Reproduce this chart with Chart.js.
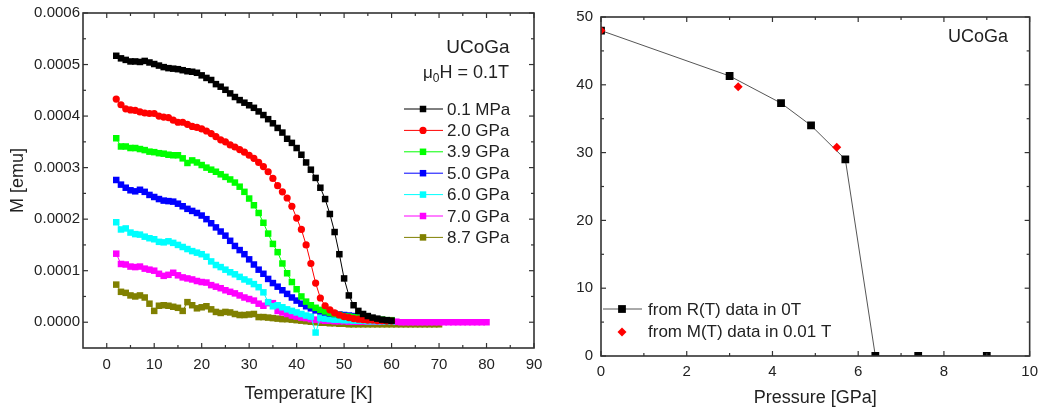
<!DOCTYPE html>
<html><head><meta charset="utf-8">
<script src="https://cdn.jsdelivr.net/npm/chart.js@4"></script>
<style>
html,body{margin:0;padding:0;background:#fff;width:1045px;height:410px;overflow:hidden}
#c1{position:absolute;left:0;top:0}
#c2{position:absolute;left:560px;top:0}
</style></head><body>
<canvas id="c1" width="560" height="410"></canvas>
<canvas id="c2" width="485" height="410"></canvas>
<script>
// ---------- Left panel data: M (in units of 1e-4 emu) vs temperature ----------
const temperatureK = [2,3,4,5,6,7,8,9,10,11,12,13,14,15,16,17,18,19,20,21,22,23,24,25,26,27,28,29,30,31,32,33,34,35,36,37,38,39,40,41,42,43,44,45,46,47,48,49,50,51,52,53,54,55,56,57,58,59,60,61,62,63,64,65,66,67,68,69,70,71,72,73,74,75,76,77,78,79,80];
const m_0_1MPa = [5.17,5.12,5.09,5.06,5.06,5.05,5.07,5.04,5.01,4.98,
  4.95,4.93,4.92,4.91,4.89,4.87,4.86,4.84,4.79,4.74,
  4.70,4.62,4.57,4.51,4.44,4.37,4.31,4.26,4.21,4.16,
  4.09,4.02,3.94,3.86,3.77,3.68,3.56,3.48,3.38,3.25,
  3.10,2.96,2.80,2.61,2.39,2.10,1.75,1.32,0.85,0.52,
  0.33,0.22,0.16,0.12,0.09,0.07,0.05,0.04,0.03];
const m_2_0GPa = [4.33,4.22,4.14,4.12,4.11,4.08,4.06,4.05,4.05,4.00,
  3.98,3.97,3.92,3.88,3.88,3.84,3.80,3.78,3.75,3.71,
  3.66,3.60,3.54,3.50,3.44,3.40,3.35,3.30,3.24,3.18,
  3.10,3.02,2.92,2.79,2.65,2.53,2.41,2.25,2.02,1.80,
  1.50,1.14,0.76,0.47,0.32,0.24,0.18,0.14,0.11,0.09,
  0.07,0.06,0.05,0.04,0.04,0.03,0.03,0.02,0.02];
const m_3_9GPa = [3.57,3.41,3.41,3.38,3.38,3.36,3.34,3.31,3.30,3.28,
  3.27,3.25,3.24,3.24,3.18,3.09,3.14,3.10,3.05,3.00,
  2.96,2.92,2.87,2.82,2.77,2.71,2.63,2.53,2.40,2.27,
  2.12,1.93,1.72,1.52,1.36,1.14,0.95,0.78,0.64,0.50,
  0.40,0.33,0.28,0.24,0.21,0.18,0.16,0.14,0.12,0.11,
  0.10,0.09,0.08,0.07,0.06,0.05,0.05,0.04,0.04];
const m_5_0GPa = [2.76,2.67,2.61,2.56,2.54,2.57,2.53,2.47,2.43,2.39,
  2.36,2.35,2.34,2.30,2.25,2.20,2.16,2.12,2.07,2.00,
  1.92,1.84,1.76,1.68,1.58,1.48,1.40,1.32,1.22,1.12,
  1.02,0.94,0.84,0.76,0.69,0.62,0.55,0.48,0.42,0.36,
  0.31,0.27,0.23,0.21,0.19,0.17,0.16,0.15,0.14,0.13,
  0.12,0.11,0.10,0.09];
const m_6_0GPa = [1.94,1.80,1.82,1.74,1.71,1.70,1.66,1.63,1.61,1.56,
  1.55,1.57,1.54,1.50,1.46,1.42,1.38,1.35,1.32,1.27,
  1.18,1.11,1.07,1.02,0.97,0.93,0.88,0.83,0.79,0.74,
  0.68,0.58,0.39,0.31,0.33,0.29,0.25,0.22,0.19,0.16,
  0.13,0.11,-0.20,0.08,0.07,0.06,0.05,0.05,0.04,0.04,
  0.03,0.03,0.03,0.02,0.02,0.02,0.02,0.01,0.01];
const m_7_0GPa = [1.33,1.13,1.12,1.08,1.07,1.08,1.04,1.02,1.00,0.94,
  0.90,0.92,0.96,0.91,0.87,0.85,0.83,0.80,0.78,0.77,
  0.72,0.69,0.66,0.62,0.59,0.56,0.52,0.48,0.45,0.42,
  0.36,0.32,0.37,0.37,0.22,0.19,0.16,0.13,0.11,0.09,
  0.08,0.06,0.05,0.04,0.03,0.03,0.02,0.02,0.02,0.01,
  0.01,0.01,0.01,0.01,0.01,0.01,0.01,0.01,0.01,0.01,
  0.00,0.00,0.00,0.00,0.00,0.00,0.00,0.00,0.00,0.00,
  0.00,0.00,0.00,0.00,0.00,0.00,0.00,0.00,0.00];
const m_8_7GPa = [0.73,0.59,0.57,0.52,0.50,0.52,0.48,0.36,0.22,0.32,
  0.33,0.32,0.30,0.28,0.22,0.39,0.33,0.27,0.29,0.31,
  0.25,0.20,0.18,0.20,0.19,0.16,0.14,0.14,0.15,0.16,
  0.10,0.10,0.09,0.08,0.07,0.06,0.06,0.05,0.04,0.03,
  0.02,0.01,0.00,-0.01,-0.01,-0.02,-0.02,-0.03,-0.03,-0.04,
  -0.04,-0.04,-0.04,-0.04,-0.04,-0.04,-0.04,-0.04,-0.04,-0.04,
  -0.04,-0.04,-0.04,-0.04,-0.04,-0.04,-0.04,-0.04,-0.04];
const pressureLabels = ['0.1 MPa','2.0 GPa','3.9 GPa','5.0 GPa','6.0 GPa','7.0 GPa','8.7 GPa'];
const mSeries = [m_0_1MPa,m_2_0GPa,m_3_9GPa,m_5_0GPa,m_6_0GPa,m_7_0GPa,m_8_7GPa];
const tempTicks = [0,10,20,30,40,50,60,70,80,90];
const tempMinor = [5,15,25,35,45,55,65,75,85];
const mTicks = [0,0.0001,0.0002,0.0003,0.0004,0.0005,0.0006];
const mMinor = [0.00005,0.00015,0.00025,0.00035,0.00045,0.00055];

// ---------- Right panel data: Tc vs pressure ----------
const pressureR = [0,3.0,4.2,4.9,5.7,6.4,7.4,9.0];
const tcR = [48.0,41.3,37.3,34.0,29.0,0,0,0];
const pressureM = [0,3.2,5.5];
const tcM = [48.0,39.7,30.8];
const pTicks = [0,2,4,6,8,10];
const pMinor = [1,3,5,7,9];
const tcTicks = [0,10,20,30,40,50];
const tcMinor = [5,15,25,35,45];

// ---------- styles ----------
const seriesColors = ['#000000','#ff0000','#00ff00','#0000ff','#00ffff','#ff00ff','#808000'];
const seriesShapes = ['rect','circle','rect','rect','rect','rect','rect'];
const FONT = "'Liberation Sans', Arial, Helvetica, sans-serif";
const TXT = '#222';
Chart.defaults.font.family = FONT;
Chart.defaults.color = TXT;

function drawMarker(ctx, shape, x, y, r, color){
  ctx.fillStyle = color;
  ctx.beginPath();
  if (shape === 'circle') { ctx.arc(x, y, r, 0, Math.PI*2); }
  else if (shape === 'rectRot') { ctx.moveTo(x, y-r); ctx.lineTo(x+r, y); ctx.lineTo(x, y+r); ctx.lineTo(x-r, y); ctx.closePath(); }
  else { const s = r*Math.SQRT1_2; ctx.rect(x-s, y-s, 2*s, 2*s); }
  ctx.fill();
}

function framePlugin(xMaj, xMin, yMaj, yMin){
  return {
    id: 'frame',
    afterDatasetsDraw(chart){
      const {ctx, chartArea:a, scales} = chart;
      const xs = scales.x, ys = scales.y;
      ctx.save();
      ctx.strokeStyle = '#333';
      ctx.lineWidth = 1.2;
      const seg = (x1,y1,x2,y2)=>{ctx.beginPath();ctx.moveTo(x1,y1);ctx.lineTo(x2,y2);ctx.stroke();};
      const tx = (vals,len)=>vals.forEach(v=>{const p=xs.getPixelForValue(v); seg(p,a.bottom,p,a.bottom-len); seg(p,a.top,p,a.top+len);});
      const ty = (vals,len)=>vals.forEach(v=>{const p=ys.getPixelForValue(v); seg(a.left,p,a.left+len,p); seg(a.right,p,a.right-len,p);});
      tx(xMaj,5); tx(xMin,3); ty(yMaj,5); ty(yMin,3);
      ctx.lineWidth = 1.6;
      ctx.strokeRect(a.left, a.top, a.right-a.left, a.bottom-a.top);
      ctx.restore();
    }
  };
}

const leftText = {
  id: 'leftText',
  afterDraw(chart){
    const ctx = chart.ctx;
    ctx.save();
    ctx.fillStyle = TXT;
    ctx.textBaseline = 'middle';
    ctx.textAlign = 'center';
    ctx.font = '19px ' + FONT;
    ctx.fillText('UCoGa', 478, 48);
    ctx.textAlign = 'left';
    let x = 423;
    ctx.font = '17px ' + FONT; ctx.fillText('μ', x, 73); x += ctx.measureText('μ').width;
    ctx.font = '12px ' + FONT; ctx.fillText('0', x, 79); x += ctx.measureText('0').width;
    ctx.font = '18px ' + FONT; ctx.fillText('H = 0.1T', x, 73);
    ctx.font = '17px ' + FONT;
    chart.data.datasets.forEach((ds,i)=>{
      const y = 109 + i*21.4;
      ctx.strokeStyle = ds.borderColor; ctx.lineWidth = 1;
      ctx.beginPath(); ctx.moveTo(404,y); ctx.lineTo(443,y); ctx.stroke();
      drawMarker(ctx, ds.pointStyle, 423, y, ds.pointStyle==='circle'?3.6:4.6, ds.backgroundColor);
      ctx.fillStyle = TXT;
      ctx.fillText(ds.label, 447, y+1);
    });
    ctx.restore();
  }
};

const rightText = {
  id: 'rightText',
  afterDraw(chart){
    const ctx = chart.ctx;
    ctx.save();
    ctx.fillStyle = TXT;
    ctx.textBaseline = 'middle';
    ctx.textAlign = 'right';
    ctx.font = '18px ' + FONT;
    ctx.fillText('UCoGa', 448, 37);
    ctx.textAlign = 'left';
    ctx.font = '17px ' + FONT;
    const dsR = chart.data.datasets[1], dsM = chart.data.datasets[0];
    ctx.strokeStyle = dsR.borderColor; ctx.lineWidth = 1;
    ctx.beginPath(); ctx.moveTo(43,309); ctx.lineTo(82,309); ctx.stroke();
    drawMarker(ctx, 'rect', 62, 309, 5.5, '#000');
    ctx.fillStyle = TXT; ctx.fillText(dsR.label, 88, 310);
    drawMarker(ctx, 'rectRot', 62, 332, 4.5, '#ff0000');
    ctx.fillStyle = TXT; ctx.fillText(dsM.label, 88, 332);
    ctx.restore();
  }
};

// ---------- Left chart ----------
new Chart(document.getElementById('c1'), {
  type: 'scatter',
  data: {
    datasets: mSeries.map((vals,i)=>({
      label: pressureLabels[i],
      data: vals.map((v,j)=>({x: temperatureK[j], y: v*1e-4})),
      showLine: true,
      borderColor: seriesColors[i],
      backgroundColor: seriesColors[i],
      borderWidth: 1,
      pointStyle: seriesShapes[i],
      pointRadius: seriesShapes[i]==='circle' ? 3.6 : 4.6,
      pointBorderWidth: 0,
      pointBackgroundColor: seriesColors[i]
    }))
  },
  options: {
    responsive: false, animation: false, events: [],
    layout: {padding: {top: 13, right: 26, left: 0, bottom: 0}},
    plugins: {legend: {display: false}, tooltip: {enabled: false}},
    scales: {
      x: {
        type: 'linear', min: -5, max: 90,
        afterBuildTicks: s => { s.ticks = tempTicks.map(v=>({value:v})); },
        afterFit: s => { s.height = 62; },
        grid: {display: false, drawTicks: false}, border: {display: false},
        ticks: {font: {size: 15}, padding: 8, color: TXT, maxRotation: 0},
        title: {display: true, text: 'Temperature [K]', font: {size: 18}, color: TXT, padding: {top: 0, bottom: 5}}
      },
      y: {
        type: 'linear', min: -0.00005, max: 0.0006,
        afterBuildTicks: s => { s.ticks = mTicks.map(v=>({value:v})); },
        afterFit: s => { s.width = 83; },
        grid: {display: false, drawTicks: false}, border: {display: false},
        ticks: {font: {size: 15}, padding: 3, color: TXT, callback: v => v.toFixed(4)},
        title: {display: true, text: 'M [emu]', font: {size: 18}, color: TXT, padding: {top: 7, bottom: 0}}
      }
    }
  },
  plugins: [framePlugin(tempTicks, tempMinor, mTicks, mMinor), leftText]
});

// ---------- Right chart ----------
new Chart(document.getElementById('c2'), {
  type: 'scatter',
  data: {
    datasets: [
      {
        label: 'from M(T) data in 0.01 T',
        data: pressureM.map((p,i)=>({x:p, y:tcM[i]})),
        showLine: false,
        pointStyle: 'rectRot', pointRadius: 4.5, pointBorderWidth: 0,
        backgroundColor: '#ff0000', borderColor: '#ff0000', pointBackgroundColor: '#ff0000'
      },
      {
        label: 'from R(T) data in 0T',
        data: pressureR.map((p,i)=>({x:p, y:tcR[i]})),
        showLine: true, borderColor: '#555', borderWidth: 1,
        pointStyle: 'rect', pointRadius: 5.5, pointBorderWidth: 0,
        backgroundColor: '#000', pointBackgroundColor: '#000'
      }
    ]
  },
  options: {
    responsive: false, animation: false, events: [],
    layout: {padding: {top: 10, right: 14, left: 0, bottom: 0}},
    plugins: {legend: {display: false}, tooltip: {enabled: false}},
    scales: {
      x: {
        type: 'linear', min: 0, max: 10,
        afterBuildTicks: s => { s.ticks = pTicks.map(v=>({value:v})); },
        afterFit: s => { s.height = 54; },
        grid: {display: false, drawTicks: false}, border: {display: false},
        ticks: {font: {size: 15}, padding: 7, color: TXT, maxRotation: 0},
        title: {display: true, text: 'Pressure [GPa]', font: {size: 18}, color: TXT, padding: {top: 0, bottom: 1}}
      },
      y: {
        type: 'linear', min: 0, max: 50,
        afterBuildTicks: s => { s.ticks = tcTicks.map(v=>({value:v})); },
        afterFit: s => { s.width = 41; },
        grid: {display: false, drawTicks: false}, border: {display: false},
        ticks: {font: {size: 15}, padding: 8, color: TXT}
      }
    }
  },
  plugins: [framePlugin(pTicks, pMinor, tcTicks, tcMinor), rightText]
});
</script>
</body></html>
